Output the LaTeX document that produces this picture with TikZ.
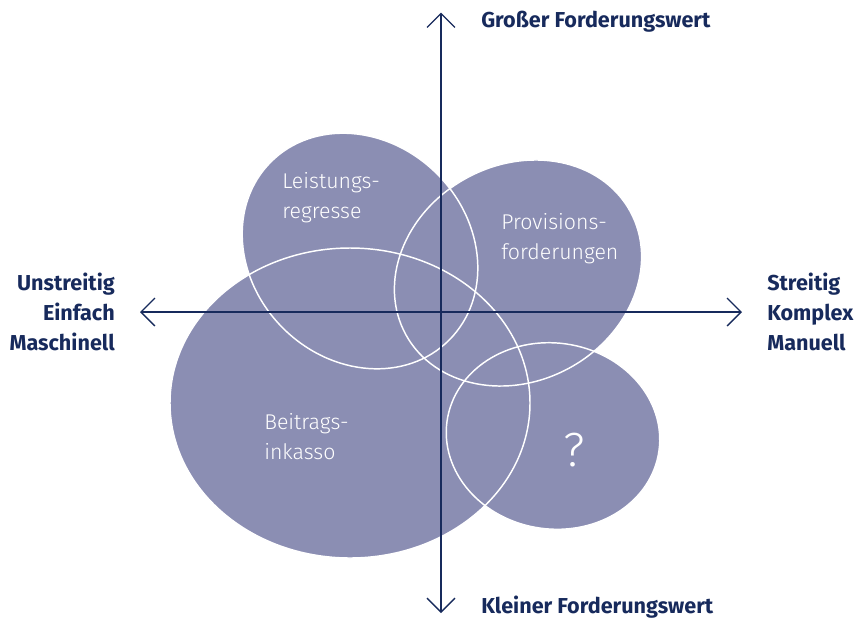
\documentclass[tikz,border=0pt]{standalone}
\usepackage{fontspec}
\setmainfont{Fira Sans}
\newfontfamily\blobfont{Fira Sans Light}
\usetikzlibrary{arrows.meta,positioning}
\definecolor{navy}{HTML}{172A5C}
\definecolor{blobfill}{HTML}{8B8EB3}
\tikzset{%
  axis/.style={draw=navy,line width=1pt,%
    {Straight Barb[length=10.5pt,width=21pt]}-{Straight Barb[length=10.5pt,width=21pt]}},
  axlabel/.style={inner sep=0pt,text=navy,font=\bfseries\fontsize{16.2}{22.5}\selectfont},
  bloblabel/.style={inner sep=0pt,text=white,align=left,%
    font=\blobfont\fontsize{16}{22.5}\selectfont},
  blob/.style={fill=blobfill,draw=none},
  rim/.style={draw=white,line width=1.1pt}
}
\begin{document}
\begin{tikzpicture}[x=0.75pt,y=-0.75pt]
  \useasboundingbox (0,0) rectangle (857,619);
  % blobs
  \fill[blob,rotate around={-45:(360,251)}] (360,251) ellipse [x radius=126,y radius=109];
  \fill[blob,rotate around={29:(518,273)}] (518,273) ellipse [x radius=128,y radius=108];
  \fill[blob] (350,403) ellipse [x radius=180,y radius=155];
  \fill[blob,rotate around={-8:(553,436)}] (553,436) ellipse [x radius=107,y radius=93];
  % white rims
  \draw[rim,rotate around={-45:(360,251)}] (360,251) ellipse [x radius=126,y radius=109];
  \draw[rim,rotate around={29:(518,273)}] (518,273) ellipse [x radius=128,y radius=108];
  \draw[rim] (350,403) ellipse [x radius=180,y radius=155];
  \draw[rim,rotate around={-8:(553,436)}] (553,436) ellipse [x radius=107,y radius=93];
  % axes
  \coordinate (top) at (441,12.5);
  \coordinate (bottom) at (441,613);
  \coordinate (left) at (140,312);
  \coordinate (right) at (742,312);
  \draw[axis] (bottom) -- (top);
  \draw[axis] (left) -- (right);
  % axis labels
  \node[axlabel,anchor=base west] (big) at (481,27.5) {Großer Forderungswert};
  \node[axlabel,anchor=base west] (small) at (481,613) {Kleiner Forderungswert};
  \node[axlabel,align=right,anchor=east] (easy) at (115,312) {Unstreitig\\Einfach\\Maschinell};
  \node[axlabel,align=left,anchor=west] (hard) at (767,312) {Streitig\\Komplex\\Manuell};
  % blob labels
  \node[bloblabel,anchor=west] (regress) at (282,198) {Leistungs-\\regresse};
  \node[bloblabel,anchor=west] (provision) at (501,239) {Provisions-\\forderungen};
  \node[bloblabel,anchor=west] (inkasso) at (264,437) {Beitrags-\\inkasso};
  \node[bloblabel,font=\blobfont\fontsize{36}{36}\selectfont] (unknown) at (574,450) {?};
\end{tikzpicture}
\end{document}
